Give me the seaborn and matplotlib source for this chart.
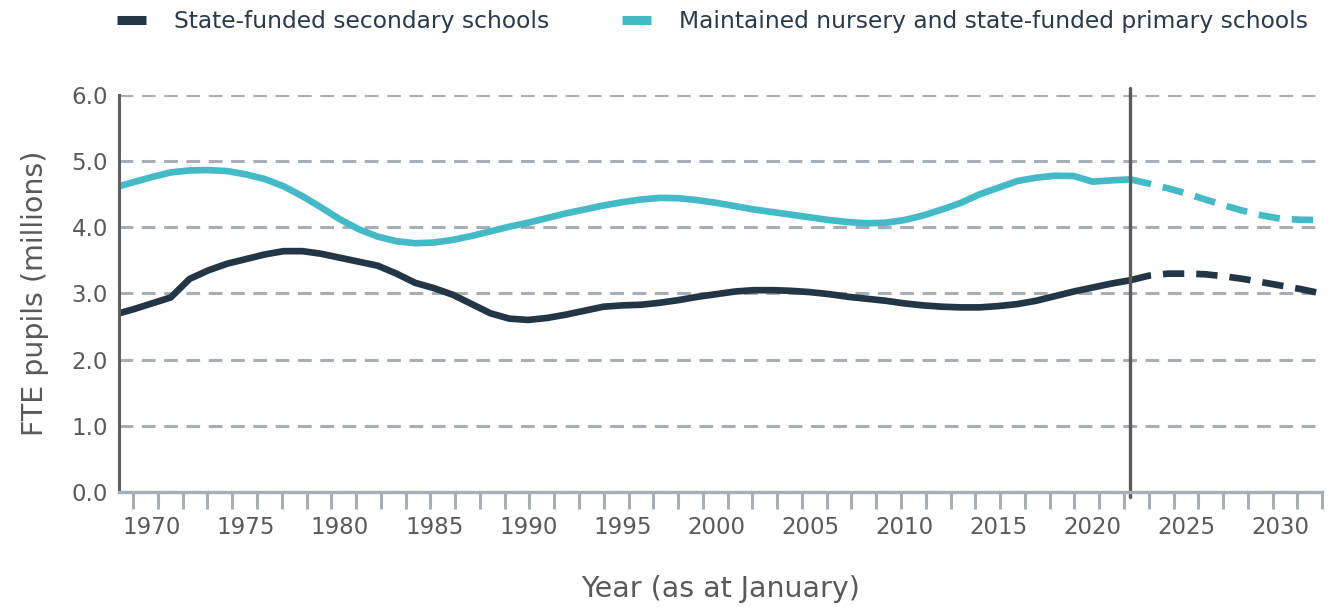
import numpy as np
import pandas as pd
import seaborn as sns
import matplotlib.pyplot as plt
from matplotlib.lines import Line2D

# values (millions of FTE pupils)
years = list(range(1968, 2023))
secondary = [
    2.68, 2.76, 2.85, 2.94, 3.22, 3.35, 3.45, 3.52, 3.59, 3.64,
    3.64, 3.60, 3.54, 3.48, 3.42, 3.30, 3.16, 3.08, 2.98, 2.84,
    2.70, 2.62, 2.60, 2.63, 2.68, 2.74, 2.80, 2.82, 2.83, 2.86,
    2.90, 2.95, 2.99, 3.03, 3.05, 3.05, 3.04, 3.02, 2.99, 2.95,
    2.92, 2.89, 2.85, 2.82, 2.80, 2.79, 2.79, 2.81, 2.84, 2.89,
    2.96, 3.03, 3.09, 3.15, 3.20,
]
primary = [
    4.60, 4.68, 4.76, 4.83, 4.86, 4.865, 4.85, 4.80, 4.73, 4.62,
    4.47, 4.30, 4.12, 3.97, 3.86, 3.79, 3.76, 3.77, 3.81, 3.87,
    3.94, 4.01, 4.07, 4.14, 4.21, 4.27, 4.33, 4.38, 4.42, 4.445,
    4.44, 4.41, 4.37, 4.32, 4.27, 4.23, 4.19, 4.15, 4.11, 4.08,
    4.06, 4.07, 4.11, 4.18, 4.27, 4.37, 4.50, 4.60, 4.70, 4.75,
    4.78, 4.775, 4.69, 4.71, 4.725,
]

proj_years = list(range(2022, 2033))
secondary_proj = [3.20, 3.27, 3.30, 3.30, 3.29, 3.26, 3.22, 3.17, 3.12, 3.07, 3.01]
primary_proj = [4.725, 4.66, 4.59, 4.51, 4.42, 4.33, 4.25, 4.18, 4.13, 4.115, 4.11]

projection_start = 2022
series_names = ['State-funded secondary schools',
                'Maintained nursery and state-funded primary schools']
colors = {series_names[0]: '#233646', series_names[1]: '#43bac6'}

actual = pd.concat([
    pd.DataFrame({'Year': years, 'Pupils': secondary, 'Series': series_names[0]}),
    pd.DataFrame({'Year': years, 'Pupils': primary, 'Series': series_names[1]}),
])
proj = pd.concat([
    pd.DataFrame({'Year': proj_years, 'Pupils': secondary_proj, 'Series': series_names[0]}),
    pd.DataFrame({'Year': proj_years, 'Pupils': primary_proj, 'Series': series_names[1]}),
])

sns.set_style('white')
plt.rcParams['font.family'] = ['DejaVu Sans']

fig = plt.figure(figsize=(13.28, 6.07), dpi=100)
ax = fig.add_axes([0.0896, 0.1895, 0.906, 0.654])

sns.lineplot(data=actual, x='Year', y='Pupils', hue='Series', palette=colors,
             linewidth=4.8, legend=False, ax=ax, zorder=3)
sns.lineplot(data=proj, x='Year', y='Pupils', hue='Series', palette=colors,
             linewidth=4.8, legend=False, ax=ax, zorder=3,
             dashes=False)
for line in ax.lines[2:]:
    line.set_linestyle((0, (3.2, 1.8)))
    line.set_dash_capstyle('butt')

ax.axvline(projection_start, ymin=-0.012, ymax=1.018, clip_on=False,
           color='#5a5a5a', linewidth=2.4, zorder=4)

ax.set_xlim(1968.25, 2032.2)
ax.set_ylim(0, 6)
ax.set_yticks(np.arange(0, 7, 1))
ax.set_yticklabels([f'{v:.1f}' for v in np.arange(0, 7, 1)])
ax.set_xticks(np.arange(1970, 2031, 5))
ax.set_xticks(np.linspace(1969, 2032.2, 49), minor=True)

ax.set_axisbelow(True)
ax.yaxis.grid(True, color='#a9aeb4', linestyle=(0, (4.5, 2.8)), linewidth=2.2)
ax.xaxis.grid(False)

for s in ['top', 'right']:
    ax.spines[s].set_visible(False)
ax.spines['left'].set_color('#5f5f5f')
ax.spines['left'].set_linewidth(2.2)
ax.spines['left'].set_zorder(5)
ax.spines['bottom'].set_color('#a9aeb4')
ax.spines['bottom'].set_linewidth(2.4)
ax.spines['bottom'].set_zorder(5)

ax.tick_params(axis='x', which='major', length=0, pad=17, labelsize=16.5,
               labelcolor='#595959')
ax.tick_params(axis='x', which='minor', length=12.5, width=2.2, color='#a9aeb4',
               direction='out', bottom=True)
ax.tick_params(axis='y', length=0, pad=8, labelsize=16.5, labelcolor='#595959')

ax.set_xlabel('Year (as at January)', fontsize=20.5, color='#595959', labelpad=26)
ax.set_ylabel('FTE pupils (millions)', fontsize=20.5, color='#595959', labelpad=16)

handles = [Line2D([0], [0], color=colors[n], linewidth=6.5,
                  solid_capstyle='butt') for n in series_names]
leg = fig.legend(handles, series_names, loc='center',
                 bbox_to_anchor=(0.5365, 0.964), ncol=2, frameon=False,
                 fontsize=16.8, handlelength=1.25, handletextpad=1.2,
                 columnspacing=3.1)
for t in leg.get_texts():
    t.set_color('#2b3a4a')

fig.savefig('out.png', dpi=100)
